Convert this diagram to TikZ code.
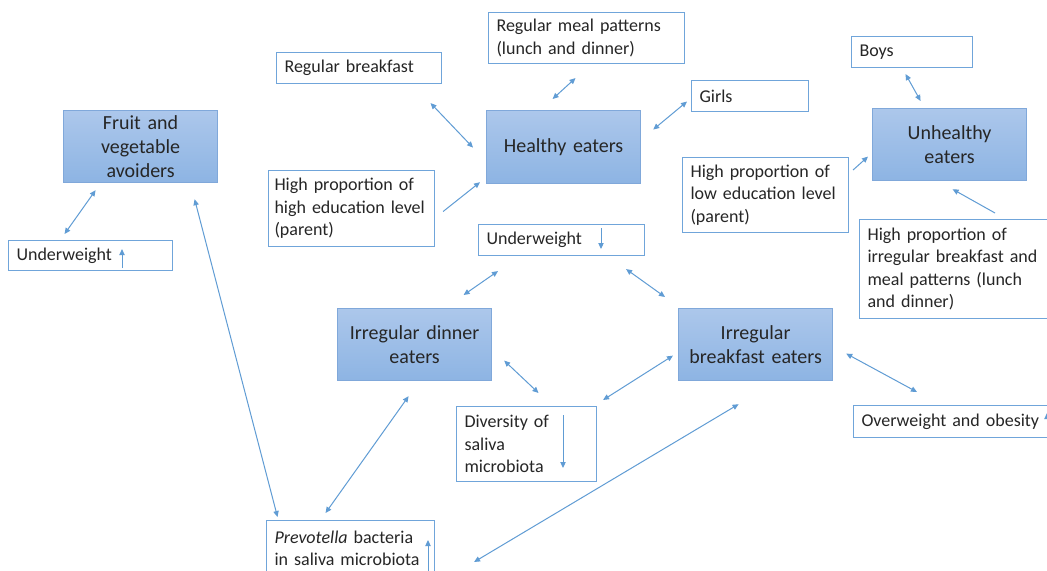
\documentclass[tikz,border=0pt]{standalone}
\usepackage{fontspec}
\setmainfont{Carlito}
\usetikzlibrary{arrows.meta}

\definecolor{grptop}{RGB}{172,199,235}
\definecolor{grpbot}{RGB}{141,180,227}
\definecolor{grpline}{RGB}{128,168,218}
\definecolor{boxline}{RGB}{112,165,218}
\definecolor{linkblue}{RGB}{96,156,212}
\definecolor{txt}{RGB}{38,38,38}

\tikzset{
  group/.style={draw=grpline, line width=0.9pt, top color=grptop, bottom color=grpbot,
    text=txt, font=\fontsize{15}{18}\selectfont, align=center, anchor=north west,
    inner xsep=5pt, inner ysep=0pt, minimum width=115.5pt, text width=105.5pt},
  factor/.style={draw=boxline, line width=0.8pt, fill=white, text=txt,
    font=\fontsize{13.5}{16.9}\selectfont, align=left, anchor=north west,
    inner xsep=6pt, inner ysep=0pt},
  link/.style={draw=linkblue, line width=0.75pt,
    {Triangle[length=4.5pt,width=4pt]}-{Triangle[length=4.5pt,width=4pt]}},
  oneway/.style={draw=linkblue, line width=0.75pt, -{Triangle[length=4.5pt,width=4pt]}},
}

\begin{document}
\begin{tikzpicture}[x=0.75pt, y=-0.75pt]
	\useasboundingbox (0,0) rectangle (1047,571);
	\clip (0,0) rectangle (1047,571);
	\fill[white] (0,0) rectangle (1047,571);

	% eater groups
	\node[group, minimum height=54pt] (fv) at (63,110) {Fruit and\\vegetable\\avoiders};
	\node[group, minimum height=54.75pt] (he) at (486,110) {Healthy eaters};
	\node[group, minimum height=54pt] (ue) at (872,108) {Unhealthy\\eaters};
	\node[group, minimum height=54pt] (ide) at (337,308) {Irregular dinner\\eaters};
	\node[group, minimum height=54pt] (ibe) at (678,308) {Irregular\\breakfast eaters};

	% related factors
	\node[factor, text width=111pt, minimum height=22.5pt] (uwl) at (8,240) {Underweight};
	\node[factor, text width=111.75pt, minimum height=23.25pt] (rb) at (276,52) {Regular breakfast};
	\node[factor, text width=135pt, minimum height=38.25pt] (rm) at (488,12) {Regular meal patterns\\(lunch and dinner)};
	\node[factor, text width=75.75pt, minimum height=23.25pt] (gi) at (691,80) {Girls};
	\node[factor, text width=78.75pt, minimum height=23.25pt] (bo) at (851,36) {Boys};
	\node[factor, inner xsep=4.5pt, text width=115.5pt, minimum height=57pt] (hed) at (268,170) {High proportion of\\high education level\\(parent)};
	\node[factor, text width=112.5pt, minimum height=56.25pt] (led) at (682,157) {High proportion of\\low education level\\(parent)};
	\node[factor, text width=135pt, minimum height=74.25pt] (hir) at (859,219) {High proportion of\\irregular breakfast and\\meal patterns (lunch\\and dinner)};
	\node[factor, text width=112.5pt, minimum height=23.25pt] (uwm) at (478,224) {Underweight};
	\node[factor, text width=93pt, minimum height=56.25pt] (div) at (456,406) {Diversity of\\saliva\\microbiota};
	\node[factor, text width=114pt, minimum height=42pt] (pre) at (266,520) {\textit{Prevotella} bacteria\\in saliva microbiota};
	\node[factor, text width=145.5pt, minimum height=24pt] (ow) at (853,405) {Overweight and obesity};

	% up / down marks in the boxes
	\draw[oneway] ([shift={(114,-3)}]uwl.south west) -- ([shift={(114,-22)}]uwl.south west);
	\draw[oneway] ([shift={(123,4)}]uwm.north west) -- ([shift={(123,25)}]uwm.north west);
	\draw[oneway] ([shift={(107,9)}]div.north west) -- ([shift={(107,62)}]div.north west);
	\draw[oneway] ([shift={(162,52)}]pre.north west) -- ([shift={(162,20)}]pre.north west);
	\draw[oneway] ([shift={(194,25)}]ow.north west) -- ([shift={(194,8)}]ow.north west);

	% connectors
	\draw[link] ([shift={(-45,7)}]fv.south) -- ([shift={(-26,-6)}]uwl.north);
	\draw[link] ([shift={(54,16)}]fv.south) -- ([shift={(-73,-3)}]pre.north);
	\draw[link] ([shift={(71.5,19)}]rb.south) -- ([shift={(-13,0.5)}]he.west);
	\draw[link] ([shift={(-11,14)}]rm.south) -- ([shift={(-11,-11)}]he.north);
	\draw[link] ([shift={(-4,5.5)}]gi.west) -- ([shift={(12,-17.5)}]he.east);
	\draw[oneway] ([shift={(8,3)}]hed.east) -- ([shift={(-6,-2)}]he.south west);
	\draw[link] ([shift={(-6.5,6)}]bo.south) -- ([shift={(-29,-7)}]ue.north);
	\draw[oneway] ([shift={(4,13)}]led.north east) -- ([shift={(-4,12)}]ue.west);
	\draw[oneway] ([shift={(136,-6)}]hir.north west) -- ([shift={(3,8)}]ue.south);
	\draw[link] ([shift={(20,15)}]uwm.south west) -- ([shift={(49,-13)}]ide.north);
	\draw[link] ([shift={(-19,13)}]uwm.south east) -- ([shift={(-13,-11)}]ibe.north west);
	\draw[link] ([shift={(12,16)}]ide.east) -- ([shift={(12,-13)}]div.north);
	\draw[link] ([shift={(-5,11)}]ibe.west) -- ([shift={(6,-6)}]div.north east);
	\draw[link] ([shift={(13,9)}]ibe.east) -- ([shift={(64,-13)}]ow.north west);
	\draw[link] ([shift={(-25,-7)}]pre.north) -- ([shift={(-6,15)}]ide.south);
	\draw[link] ([shift={(39,42)}]pre.north east) -- ([shift={(-17,23)}]ibe.south);

\end{tikzpicture}
\end{document}
